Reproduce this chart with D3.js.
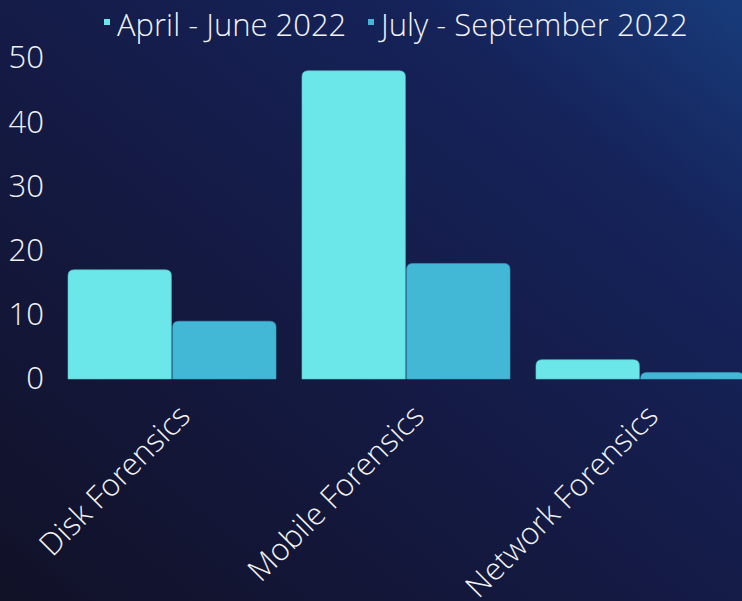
<!DOCTYPE html>
<html>
<head>
<meta charset="utf-8">
<script src="https://cdn.jsdelivr.net/npm/d3@7"></script>
<style>
  html, body { margin: 0; padding: 0; background: #131530; }
  svg { display: block; }
  text { font-family: "Open Sans Light", "Open Sans", sans-serif; font-weight: 300; fill: #f2f2f2; }
</style>
</head>
<body>
<div id="chart"></div>
<script>
// data
var categories = ["Disk Forensics", "Mobile Forensics", "Network Forensics"];
var seriesNames = ["April - June 2022", "July - September 2022"];
var aprJun = [17, 48, 3];
var julSep = [9, 18, 1];
var yTicks = [0, 10, 20, 30, 40, 50];
var colors = ["#6be6e9", "#42b8d6"];

var fontStack = "'Open Sans Light', 'Open Sans', sans-serif";
var svgWidth = 742, svgHeight = 601;

var svg = d3.select("#chart")
  .append("svg")
  .attr("width", svgWidth)
  .attr("height", svgHeight);

// background gradient
var defs = svg.append("defs");
var grad = defs.append("linearGradient")
  .attr("id", "bg")
  .attr("x1", "0%").attr("y1", "100%")
  .attr("x2", "100%").attr("y2", "0%");
grad.append("stop").attr("offset", "0%").attr("stop-color", "#111127");
grad.append("stop").attr("offset", "45%").attr("stop-color", "#141a44");
grad.append("stop").attr("offset", "78%").attr("stop-color", "#15235a");
grad.append("stop").attr("offset", "100%").attr("stop-color", "#183b7a");

svg.append("rect")
  .attr("width", svgWidth)
  .attr("height", svgHeight)
  .attr("fill", "url(#bg)");

var data = categories.map((c, i) => ({ cat: c, values: [aprJun[i], julSep[i]] }));

// scales
var yScale = d3.scaleLinear()
  .domain([0, 50])
  .range([379, 58]);

var x0 = d3.scaleBand()
  .domain(categories)
  .range([55, 757])
  .paddingInner(0.111)
  .paddingOuter(0.0556);

var x1 = d3.scaleBand()
  .domain([0, 1])
  .range([0, x0.bandwidth()])
  .paddingInner(0.012);

// y axis
var yAxis = d3.axisLeft(yScale).tickValues(yTicks).tickSize(0).tickPadding(0);
var yG = svg.append("g")
  .attr("transform", "translate(44,0)")
  .call(yAxis);
yG.select(".domain").remove();
yG.selectAll("text")
  .style("font-size", "31px")
  .style("font-family", fontStack)
  .style("font-weight", 300)
  .attr("fill", "#f2f2f2");

// bars with rounded tops
function topRounded(x, y, w, h, r) {
  r = Math.min(r, h, w / 2);
  return `M${x},${y + h}V${y + r}Q${x},${y} ${x + r},${y}H${x + w - r}Q${x + w},${y} ${x + w},${y + r}V${y + h}Z`;
}

var groups = svg.selectAll(".cat")
  .data(data)
  .enter()
  .append("g")
  .attr("class", "cat")
  .attr("transform", d => `translate(${x0(d.cat)},0)`);

groups.selectAll("path")
  .data(d => d.values.map((v, i) => ({ v: v, i: i })))
  .enter()
  .append("path")
  .attr("d", d => topRounded(x1(d.i), yScale(d.v), x1.bandwidth(), yScale(0) - yScale(d.v), 6))
  .attr("fill", d => colors[d.i])
  .attr("stroke", d => d3.color(colors[d.i]).darker(0.4))
  .attr("stroke-width", 0.6);

// x axis labels (last one runs off the bottom edge, as in the original)
var xAxis = d3.axisBottom(x0).tickSize(0).tickPadding(0);
var xG = svg.append("g")
  .attr("transform", "translate(0,379)")
  .call(xAxis);
xG.select(".domain").remove();
xG.selectAll("text")
  .style("font-size", "31px")
  .style("font-family", fontStack)
  .style("font-weight", 300)
  .attr("fill", "#f2f2f2")
  .attr("text-anchor", "end")
  .attr("dy", "0")
  .attr("transform", "translate(20,39) rotate(-45)");

// legend
var legendX = [104, 368];
var legend = svg.selectAll(".legend")
  .data(seriesNames)
  .enter()
  .append("g")
  .attr("class", "legend")
  .attr("transform", (d, i) => `translate(${legendX[i]},0)`);

legend.append("rect")
  .attr("x", 0)
  .attr("y", 19)
  .attr("width", 6)
  .attr("height", 6)
  .attr("fill", (d, i) => colors[i]);

legend.append("text")
  .attr("x", 13)
  .attr("y", 36)
  .style("font-size", "31px")
  .text(d => d);
</script>
</body>
</html>
